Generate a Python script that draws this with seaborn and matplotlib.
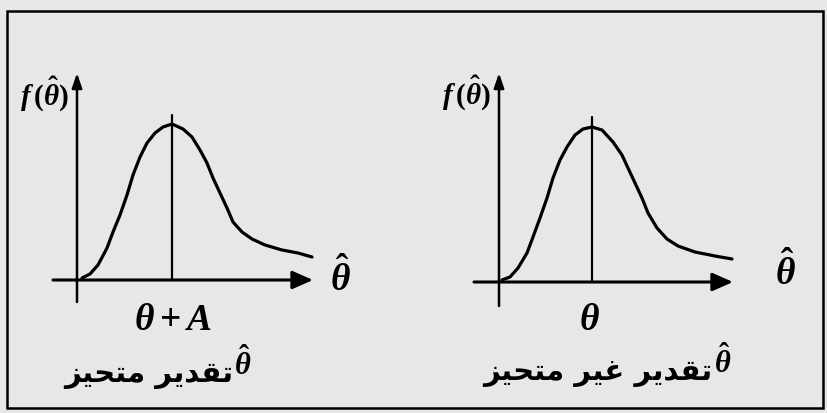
import matplotlib
matplotlib.use("Agg")
import matplotlib.pyplot as plt
import seaborn as sns
import pandas as pd
from matplotlib.patches import Rectangle

# Density sketches, measured as offsets from each panel's axis origin
biased_x = [5, 13, 21, 30, 36, 43, 50, 56, 63, 70, 78, 86, 95, 106, 115,
            123, 130, 136, 143, 150, 156, 165, 175, 188, 205, 221, 235]
biased_y = [2, 6, 15, 32, 48, 65, 85, 105, 123, 137, 147, 153, 156, 151, 143,
            130, 117, 102, 87, 72, 58, 48, 41, 35, 30, 27, 23]
unbiased_x = [3, 11, 19, 28, 34, 41, 48, 54, 61, 68, 76, 84, 93, 103, 114,
              123, 129, 136, 143, 149, 158, 168, 179, 196, 216, 233]
unbiased_y = [2, 5, 14, 29, 45, 64, 84, 104, 122, 135, 147, 153, 155, 152, 140,
              127, 114, 99, 84, 69, 54, 43, 36, 30, 26, 23]
# Position of the mean marker on each horizontal axis
centers = [95, 93]
center_labels = [r"$\theta+A$", r"$\theta$"]
captions = ["تقدير متحيز", "تقدير غير متحيز"]

# Arabic contextual forms: isolated, final, initial, medial
FORMS = {
    "ت": ("\uFE95", "\uFE96", "\uFE97", "\uFE98"),
    "ق": ("\uFED5", "\uFED6", "\uFED7", "\uFED8"),
    "د": ("\uFEA9", "\uFEAA", None, None),
    "ي": ("\uFEF1", "\uFEF2", "\uFEF3", "\uFEF4"),
    "ر": ("\uFEAD", "\uFEAE", None, None),
    "م": ("\uFEE1", "\uFEE2", "\uFEE3", "\uFEE4"),
    "ح": ("\uFEA1", "\uFEA2", "\uFEA3", "\uFEA4"),
    "ز": ("\uFEAF", "\uFEB0", None, None),
    "غ": ("\uFECD", "\uFECE", "\uFECF", "\uFED0"),
}


def shape_arabic(text):
    out = []
    for word in text.split(" "):
        shaped = []
        for i, ch in enumerate(word):
            f = FORMS[ch]
            prev_joins = i > 0 and FORMS[word[i - 1]][2] is not None
            next_joins = i < len(word) - 1 and f[2] is not None
            if prev_joins and next_joins:
                shaped.append(f[3])
            elif prev_joins:
                shaped.append(f[1])
            elif next_joins:
                shaped.append(f[2])
            else:
                shaped.append(f[0])
        out.append("".join(shaped))
    return " ".join(out)[::-1]


sns.set_theme(style="white")
plt.rcParams["mathtext.fontset"] = "custom"
plt.rcParams["mathtext.it"] = "Liberation Serif:style=italic:weight=bold"
plt.rcParams["mathtext.rm"] = "Liberation Serif:weight=bold"
plt.rcParams["mathtext.bf"] = "Liberation Serif:weight=bold"
plt.rcParams["font.family"] = ["DejaVu Sans"]

paper = "#e7e7e5"
fig = plt.figure(figsize=(8.27, 4.13), dpi=100, facecolor=paper)

W, H = 827, 413
panels = [
    dict(x=biased_x, y=biased_y, ox=77, oy=280, left=0.0, xa=(-24, 236),
         ya=(-22, 207), center=centers[0], clabel=center_labels[0],
         cpos=(96, -40), thpos=(263, 2), fpos=(-33, 186),
         cap=captions[0], cap_x=156, cap_y=-95, cap_th=(157, -84)),
    dict(x=unbiased_x, y=unbiased_y, ox=499, oy=282, left=0.5, xa=(-25, 234),
         ya=(-24, 209), center=centers[1], clabel=center_labels[1],
         cpos=(90, -38), thpos=(286, 10), fpos=(-33, 189),
         cap=captions[1], cap_x=213, cap_y=-91, cap_th=(215, -80)),
]

for p in panels:
    ax = fig.add_axes([p["left"], 0, 0.5, 1])
    x0 = p["left"] * W
    ax.set_xlim(x0 - p["ox"], x0 + W / 2 - p["ox"])
    ax.set_ylim(p["oy"] - H, p["oy"])
    ax.axis("off")

    df = pd.DataFrame({"x": p["x"], "y": p["y"]})
    sns.lineplot(data=df, x="x", y="y", ax=ax, color="black", lw=2.3,
                 sort=False, estimator=None,
                 solid_joinstyle="round", solid_capstyle="round")

    # mean marker
    ax.plot([p["center"], p["center"]], [0, 165], color="black", lw=1.6)

    # axes with arrows
    ax.annotate("", xy=(p["xa"][1], 0), xytext=(p["xa"][0], 0),
                arrowprops=dict(arrowstyle="-|>,head_length=0.5,head_width=0.22",
                                mutation_scale=25, lw=2.2, color="black",
                                shrinkA=0, shrinkB=0))
    ax.annotate("", xy=(0, p["ya"][1]), xytext=(0, p["ya"][0]),
                arrowprops=dict(arrowstyle="-|>,head_length=0.35,head_width=0.12",
                                mutation_scale=25, lw=1.8, color="black",
                                shrinkA=0, shrinkB=0))

    ax.text(*p["fpos"], r"$f\,(\hat{\theta})$", fontsize=21, ha="center",
            va="center", color="black")
    ax.text(*p["thpos"], r"$\hat{\theta}$", fontsize=27, ha="center",
            va="center", color="black")
    ax.text(*p["cpos"], p["clabel"], fontsize=27, ha="center", va="center",
            color="black")
    ax.text(p["cap_x"], p["cap_y"], shape_arabic(p["cap"]), fontsize=21,
            fontweight="bold", ha="right", va="center", color="black")
    ax.text(*p["cap_th"], r"$\hat{\theta}$", fontsize=22, ha="left",
            va="center", color="black")

# frame around the figure
fig.patches.append(Rectangle((7 / W, 5 / H), 816 / W, 397 / H,
                             transform=fig.transFigure, fill=False,
                             edgecolor="black", lw=1.8))

fig.savefig("out.png", dpi=100, facecolor=paper)
